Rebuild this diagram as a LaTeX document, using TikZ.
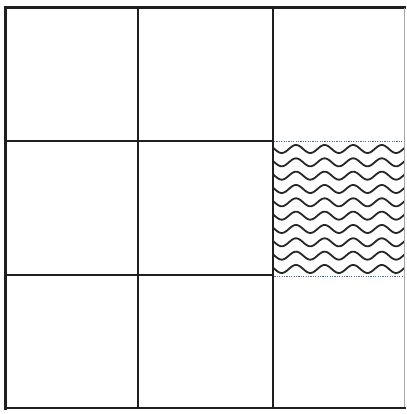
\documentclass[tikz,border=0pt]{standalone}
\begin{document}
\begin{tikzpicture}[x=1pt,y=-1pt,
  gridline/.style={draw=black!88,line width=2pt},
  edgeline/.style={draw=black!35,line width=1pt},
  wave/.style={draw=black!85,line width=1.8pt},
  cellborder/.style={draw={rgb,255:red,70;green,110;blue,170},line width=0.8pt,dash pattern=on 1.2pt off 1.2pt}]
\useasboundingbox (0,0) rectangle (406,414);
\fill[white] (0,0) rectangle (406,414);
% hatched cell
\begin{scope}
\clip (272.5,141.5) rectangle (404,276.5);
\foreach \r in {-1,...,10}{
  \pgfmathsetmacro{\yc}{145+13.33*\r}
  \draw[wave] plot[domain=268:408,samples=120,smooth] (\x,{\yc+4-4*cos((\x-296)*12.587)});
}
\end{scope}
\draw[cellborder] (272.5,141.7) rectangle (404,276.7);
% grid
\coordinate (tl) at (5.5,7.5);
\coordinate (tr) at (406,7.5);
\coordinate (bl) at (5.5,408);
\coordinate (br) at (406,408);
\draw[gridline,line width=2.2pt] (tl) -- (tr);
\draw[gridline,line width=2.8pt] (5.5,6.5) -- (5.5,409.5);
\draw[gridline,line width=2.6pt] (4.2,408) -- (br);
\draw[gridline] (138.3,7.5) -- (138.3,408);
\draw[gridline] (272.6,7.5) -- (272.6,408);
\draw[gridline] (5.5,141.5) -- (272.6,141.5);
\draw[gridline] (5.5,275.3) -- (272.6,275.3);
\draw[edgeline] (404.5,8.5) -- (404.5,407);
\end{tikzpicture}
\end{document}
